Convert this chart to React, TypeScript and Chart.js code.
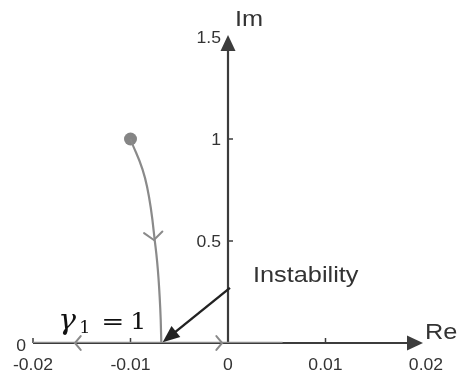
import React, { useEffect, useRef } from "react";
import { Chart, registerables } from "chart.js";

Chart.register(...registerables);

// Axis extents
const xRange = [-0.02, 0.02];
const yRange = [0, 1.5];
const xTickValues = [-0.02, -0.01, 0, 0.01, 0.02];
const xTickLabels = ["-0.02", "-0.01", "0", "0.01", "0.02"];
const xTickMarks = [-0.02, -0.01, 0.01];
const yTickValues = [0, 0.5, 1, 1.5];
const yTickLabels = ["0", "0.5", "1", "1.5"];
const yTickMarks = [0.5, 1];

// Root locus branch (Re, Im)
const curveRe = [-0.01, -0.0083, -0.0076, -0.0069, -0.00684];
const curveIm = [1.0, 0.766, 0.54, 0.113, 0.0];
// Real-axis branch
const realRe = [-0.02, 0.0056];
const realIm = [0, 0];
// Direction chevrons: [re, im, directionDeg] (0 = +Re, 90 = -Im)
const chevronRe = [-0.0157, -0.0006, -0.0076];
const chevronIm = [0, 0, 0.505];
const chevronDir = [180, 0, 85];
const chevronLen = [9, 9, 12];
// Annotation arrow (from -> to)
const annotFrom = [0.0002, 0.27];
const annotTo = [-0.0067, 0.004];

const DARK = "#3c3c3c";
const GRAY = "#8a8a8a";
const SX = 1.12;

function stretchedText(
  ctx: CanvasRenderingContext2D,
  s: string,
  x: number,
  y: number,
  font: string,
  align: "left" | "right" | "center",
  color: string,
  sx: number = SX
) {
  ctx.save();
  ctx.font = font;
  ctx.fillStyle = color;
  ctx.textBaseline = "alphabetic";
  const w = ctx.measureText(s).width * sx;
  let left = x;
  if (align === "right") left = x - w;
  if (align === "center") left = x - w / 2;
  ctx.translate(left, y);
  ctx.scale(sx, 1);
  ctx.textAlign = "left";
  ctx.fillText(s, 0, 0);
  ctx.restore();
}

function arrowHead(
  ctx: CanvasRenderingContext2D,
  tx: number,
  ty: number,
  ang: number,
  len: number,
  hw: number,
  color: string
) {
  const bx = tx - Math.cos(ang) * len;
  const by = ty - Math.sin(ang) * len;
  const px = -Math.sin(ang) * hw;
  const py = Math.cos(ang) * hw;
  ctx.save();
  ctx.fillStyle = color;
  ctx.beginPath();
  ctx.moveTo(tx, ty);
  ctx.lineTo(bx + px, by + py);
  ctx.lineTo(bx - px, by - py);
  ctx.closePath();
  ctx.fill();
  ctx.restore();
}

const axesPlugin = {
  id: "customAxes",
  beforeDatasetsDraw(chart: any) {
    const ctx: CanvasRenderingContext2D = chart.ctx;
    const xs = chart.scales.x;
    const ys = chart.scales.y;
    const x0 = xs.getPixelForValue(0);
    const y0 = ys.getPixelForValue(0);
    const xl = xs.getPixelForValue(xRange[0]);
    const xr = xs.getPixelForValue(xRange[1]);
    const yt = ys.getPixelForValue(yRange[1]) - 2;
    ctx.save();
    ctx.strokeStyle = DARK;
    ctx.lineWidth = 2.2;
    ctx.beginPath();
    ctx.moveTo(xl, y0);
    ctx.lineTo(xr - 10, y0);
    ctx.moveTo(x0, y0);
    ctx.lineTo(x0, yt + 10);
    ctx.stroke();
    ctx.lineWidth = 1.5;
    ctx.beginPath();
    xTickMarks.forEach((v) => {
      const px = xs.getPixelForValue(v);
      ctx.moveTo(px, y0);
      ctx.lineTo(px, y0 - 5);
    });
    yTickMarks.forEach((v) => {
      const py = ys.getPixelForValue(v);
      ctx.moveTo(x0, py);
      ctx.lineTo(x0 + 5, py);
    });
    ctx.stroke();
    ctx.restore();
    arrowHead(ctx, xr, y0, 0, 16, 7.5, DARK);
    arrowHead(ctx, x0, yt, -Math.PI / 2, 16, 7.5, DARK);
  },
  afterDatasetsDraw(chart: any) {
    const ctx: CanvasRenderingContext2D = chart.ctx;
    const xs = chart.scales.x;
    const ys = chart.scales.y;
    const x0 = xs.getPixelForValue(0);
    const y0 = ys.getPixelForValue(0);

    // chevrons
    ctx.save();
    ctx.strokeStyle = GRAY;
    ctx.lineWidth = 2;
    ctx.lineCap = "round";
    chevronRe.forEach((re, i) => {
      const tx = xs.getPixelForValue(re);
      const ty = ys.getPixelForValue(chevronIm[i]);
      const a = (chevronDir[i] * Math.PI) / 180;
      const len = chevronLen[i];
      const spread = (50 * Math.PI) / 180;
      ctx.beginPath();
      ctx.moveTo(tx - Math.cos(a - spread) * len, ty - Math.sin(a - spread) * len);
      ctx.lineTo(tx, ty);
      ctx.lineTo(tx - Math.cos(a + spread) * len, ty - Math.sin(a + spread) * len);
      ctx.stroke();
    });
    ctx.restore();

    // annotation arrow
    const fx = xs.getPixelForValue(annotFrom[0]);
    const fy = ys.getPixelForValue(annotFrom[1]);
    const tx = xs.getPixelForValue(annotTo[0]);
    const ty = ys.getPixelForValue(annotTo[1]);
    const ang = Math.atan2(ty - fy, tx - fx);
    ctx.save();
    ctx.strokeStyle = "#222";
    ctx.lineWidth = 2.4;
    ctx.beginPath();
    ctx.moveTo(fx, fy);
    ctx.lineTo(tx - Math.cos(ang) * 12, ty - Math.sin(ang) * 12);
    ctx.stroke();
    ctx.restore();
    arrowHead(ctx, tx, ty, ang, 17, 7, "#222");

    // tick labels
    const tickFont = "16px 'Liberation Sans', Arial, sans-serif";
    xTickValues.forEach((v, i) => {
      stretchedText(ctx, xTickLabels[i], xs.getPixelForValue(v) + (i === 4 ? 3 : 0), y0 + 27, tickFont, "center", "#333", 1.1);
    });
    yTickValues.forEach((v, i) => {
      if (i === 0) {
        stretchedText(ctx, yTickLabels[i], xs.getPixelForValue(xRange[0]) - 7, y0 + 8, tickFont, "right", "#333", 1.1);
      } else {
        stretchedText(ctx, yTickLabels[i], x0 - 7, ys.getPixelForValue(v) + 6, tickFont, "right", "#333", 1.1);
      }
    });

    const bigFont = "22px 'Liberation Sans', Arial, sans-serif";
    stretchedText(ctx, "Re", xs.getPixelForValue(xRange[1]) + 2, y0 - 4, bigFont, "left", "#333", 1.15);
    stretchedText(ctx, "Im", x0 + 7, ys.getPixelForValue(yRange[1]) - 11, bigFont, "left", "#333", 1.15);
    stretchedText(ctx, "Instability", x0 + 25, ys.getPixelForValue(0.3), bigFont, "left", "#333", 1.15);

    // gamma label
    const bx = xs.getPixelForValue(-0.0174);
    const by = y0 - 14;
    stretchedText(ctx, "γ", bx, by, "italic 27px 'DejaVu Serif', serif", "left", "#111", 1.1);
    stretchedText(ctx, "1", bx + 21, by + 4, "16px 'DejaVu Serif', serif", "left", "#111", 1.1);
    stretchedText(ctx, "=", bx + 43, by, "23px 'DejaVu Serif', serif", "left", "#111", 1.2);
    stretchedText(ctx, "1", bx + 72, by, "22px 'DejaVu Serif', serif", "left", "#111", 1.15);
  },
};

export default function App() {
  const ref = useRef<HTMLCanvasElement | null>(null);
  useEffect(() => {
    if (!ref.current) return;
    const chart = new Chart(ref.current, {
      type: "scatter",
      data: {
        datasets: [
          {
            data: realRe.map((x, i) => ({ x, y: realIm[i] })),
            showLine: true,
            borderColor: GRAY,
            borderWidth: 2.4,
            pointRadius: 0,
          },
          {
            data: curveRe.map((x, i) => ({ x, y: curveIm[i] })),
            showLine: true,
            borderColor: GRAY,
            borderWidth: 2.2,
            pointRadius: 0,
            cubicInterpolationMode: "monotone",
          },
          {
            data: [{ x: curveRe[0], y: curveIm[0] }],
            pointRadius: 6.5,
            pointBackgroundColor: "#858585",
            pointBorderColor: "#858585",
            pointBorderWidth: 0,
          },
        ],
      },
      options: {
        animation: false,
        responsive: false,
        devicePixelRatio: 1,
        layout: { padding: { left: 33, right: 37, top: 37, bottom: 30 } },
        plugins: { legend: { display: false }, tooltip: { enabled: false } },
        scales: {
          x: { type: "linear", min: xRange[0], max: xRange[1], display: false },
          y: { type: "linear", min: yRange[0], max: yRange[1], display: false },
        },
      },
      plugins: [axesPlugin],
    } as any);
    return () => chart.destroy();
  }, []);
  return (
    <div style={{ position: "fixed", left: 0, top: 0, width: 460, height: 373, background: "#fff" }}>
      <canvas ref={ref} width={460} height={373} />
    </div>
  );
}
